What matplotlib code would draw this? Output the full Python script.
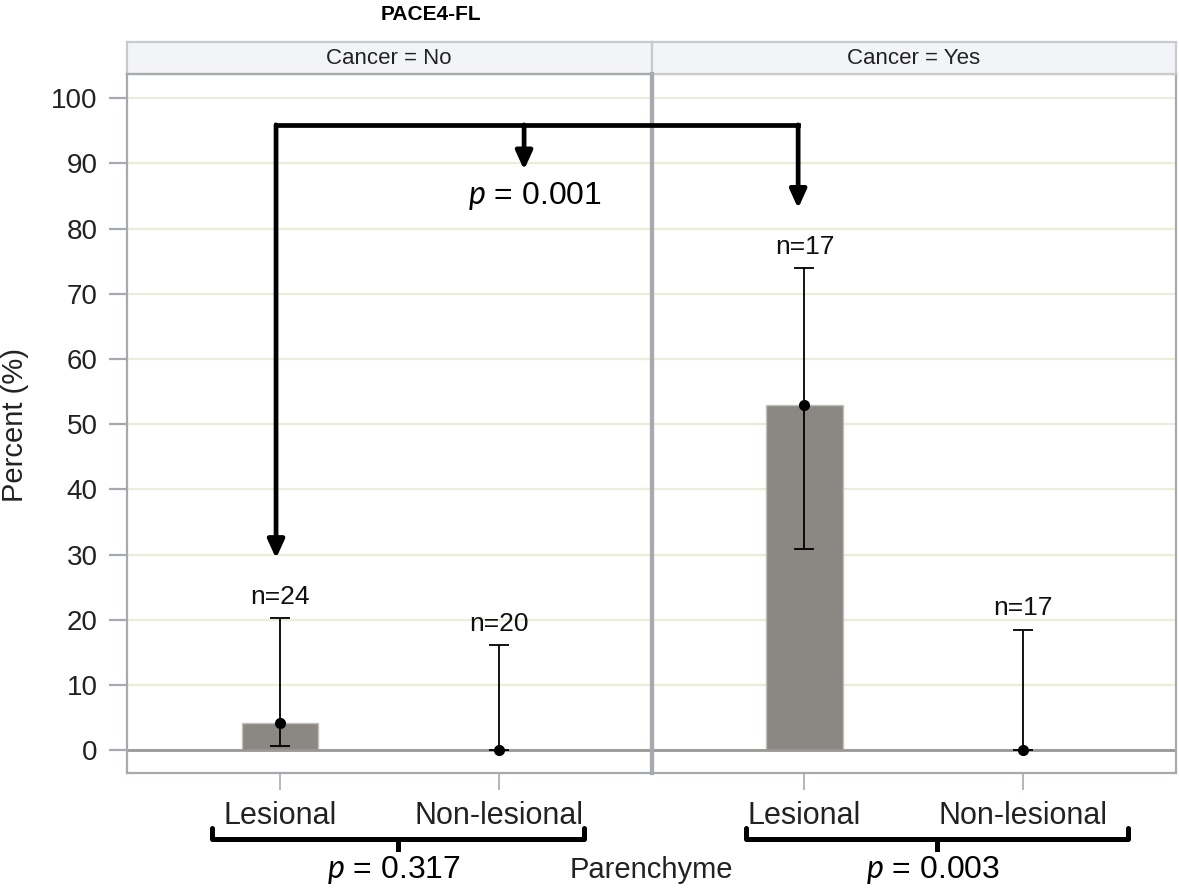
import matplotlib
matplotlib.use("Agg")
import matplotlib.pyplot as plt
from matplotlib.patches import ArrowStyle
import numpy as np

plt.rcParams['font.family'] = ['Liberation Sans', 'DejaVu Sans']
plt.rcParams['mathtext.fontset'] = 'custom'
plt.rcParams['mathtext.it'] = 'Lato:italic'
plt.rcParams['mathtext.rm'] = 'Lato'

# data
panels = ["Cancer = No", "Cancer = Yes"]
categories = ["Lesional", "Non-lesional"]
percent = [[4.2, 0.0], [52.9, 0.0]]
err_low = [[0.6, 0.0], [30.8, 0.0]]
err_high = [[20.3, 16.1], [73.9, 18.5]]
n_labels = [["n=24", "n=20"], ["n=17", "n=17"]]
p_panels = ["0.317", "0.003"]
p_between = "0.001"

bar_color = "#8b8782"
frame_color = "#a6aaae"
grid_color = "#eaedd8"

fig = plt.figure(figsize=(11.79, 8.91), dpi=100)
W, H = 1179, 891

def rect(x0, y0, x1, y1):
    return [x0 / W, 1 - y1 / H, (x1 - x0) / W, (y1 - y0) / H]

axes = [fig.add_axes(rect(127, 74, 651.5, 773)),
        fig.add_axes(rect(651.5, 74, 1176, 773))]
strips = [fig.add_axes(rect(127, 42, 651.5, 74)),
          fig.add_axes(rect(651.5, 42, 1176, 74))]

x = np.arange(len(categories))
for i, ax in enumerate(axes):
    ax.set_xlim(-0.7, 1.7)
    ax.set_ylim(-3.5, 103.7)
    ax.set_yticks(np.arange(0, 101, 10))
    ax.yaxis.grid(True, color=grid_color, lw=1.6)
    ax.set_axisbelow(True)
    ax.bar(x, percent[i], width=0.35, color=bar_color, edgecolor="#c2bfba",
           lw=1, zorder=2)
    ax.axhline(0, color="#9a9896", lw=2, zorder=2.5)
    vals = np.array(percent[i])
    yerr = np.array([vals - np.array(err_low[i]), np.array(err_high[i]) - vals])
    ax.errorbar(x, vals, yerr=yerr, fmt='o', color='black', ms=7,
                ecolor='black', elinewidth=1.3, capsize=7, capthick=1.3, zorder=3)
    for j in range(len(categories)):
        ax.text(x[j], err_high[i][j] + 1.4, n_labels[i][j], ha='center',
                va='bottom', fontsize=19, color='#111111')
    ax.set_xticks(x)
    ax.set_xticklabels(categories, fontsize=22, color='#222222')
    ax.tick_params(axis='x', length=12, width=1.2, color=frame_color, pad=8)
    for s in ax.spines.values():
        s.set_color(frame_color)
        s.set_linewidth(1.6)
    if i == 0:
        ax.tick_params(axis='y', length=13, width=1.6, color=frame_color,
                       labelsize=20, labelcolor='#222222', pad=8)
        ax.spines['right'].set_linewidth(3)
    else:
        ax.tick_params(axis='y', length=0, labelleft=False)
        ax.spines['left'].set_linewidth(3)

for i, sa in enumerate(strips):
    sa.set_facecolor("#f3f4f8")
    sa.set_xticks([])
    sa.set_yticks([])
    for s in sa.spines.values():
        s.set_color("#c8cacd")
        s.set_linewidth(1.6)
    sa.text(0.5, 0.5, panels[i], ha='center', va='center', fontsize=16,
            color='#222222', transform=sa.transAxes)

fig.text(431 / W, 1 - 15 / H, "PACE4-FL", ha='center', va='center',
         fontsize=15, fontweight='bold')
fig.text(15 / W, 1 - 425 / H, "Percent (%)", rotation=90, ha='center',
         va='center', fontsize=21, color='#222222')
fig.text(651 / W, 1 - 870 / H, "Parenchyme", ha='center', va='center',
         fontsize=21, color='#222222')

# comparison bracket between panels (drawn in left panel coordinates,
# left panel raised above the right one so the bracket is not covered)
axL, axR = axes
axL.set_zorder(3)
axL.patch.set_visible(False)
bx = [-0.018, 1.117, 2.371]
btips = [29.4, 89.0, 83.1]
by = 95.9
axL.plot([bx[0], bx[2]], [by, by], color='black', lw=3.4, clip_on=False,
         solid_capstyle='projecting', zorder=5)
style = ArrowStyle('-|>', head_length=1.1, head_width=0.5)
for bxi, tip in zip(bx, btips):
    axL.annotate('', xy=(bxi, tip), xytext=(bxi, by), annotation_clip=False,
                 arrowprops=dict(arrowstyle=style, color='black', lw=3.4,
                                 shrinkA=0, shrinkB=0, mutation_scale=10),
                 zorder=5)
axL.text(1.167, 85.0, r"$p$ = " + p_between, ha='center', va='center',
         fontsize=23, clip_on=False)

# braces under each panel
brace_x = [(-0.311, 1.392), (-0.268, 1.480)]
for ax, (x0, x1), pv in zip(axes, brace_x, p_panels):
    xm = (x0 + x1) / 2
    ax.plot([x0, x0, x1, x1], [-12.0, -13.6, -13.6, -12.0], color='black',
            lw=3.6, clip_on=False, solid_joinstyle='round',
            solid_capstyle='round')
    ax.plot([xm, xm], [-13.6, -15.2], color='black', lw=3.6, clip_on=False)
    ax.text(xm - 0.02, -18.4, r"$p$ = " + pv, ha='center', va='center',
            fontsize=23, clip_on=False)

fig.savefig("out.png", dpi=100)
